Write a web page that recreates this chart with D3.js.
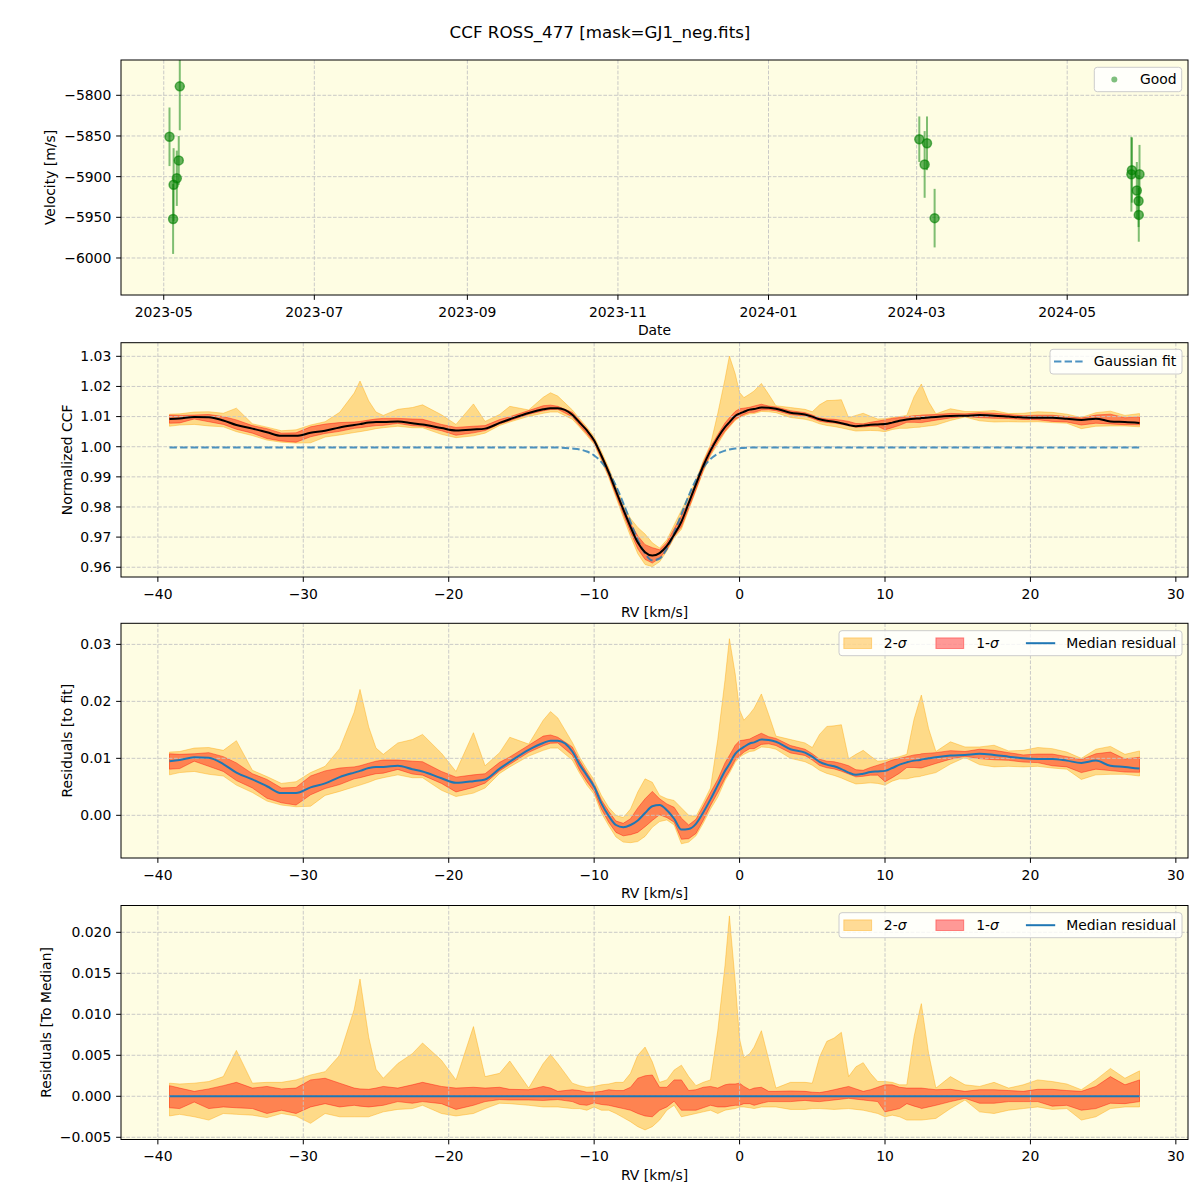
<!DOCTYPE html>
<html><head><meta charset="utf-8">
<script src="https://cdn.jsdelivr.net/npm/d3@7"></script>
<style>
body{margin:0;background:#fff;}
svg{display:block;font-family:"DejaVu Sans",sans-serif;}
</style></head><body>
<svg id="chart" width="1200" height="1200"></svg>
<script>
// ---------------- DATA ----------------
const rv = [-39.2,-38.5,-37.5,-36.5,-35.5,-34.6,-33.5,-32.5,-31.5,-30.5,-29.5,-28.5,-27.5,-26.5,-26.1,-25.5,-25.0,-24.5,-23.5,-22.5,-21.8,-20.5,-19.5,-18.3,-17.5,-16.5,-15.8,-14.5,-13.5,-13.0,-12.5,-11.5,-11.0,-10.5,-10.0,-9.5,-9.0,-8.5,-8.0,-7.5,-7.0,-6.5,-6.0,-5.5,-5.0,-4.5,-4.0,-3.5,-3.0,-2.5,-2.0,-1.5,-1.0,-0.7,-0.3,0.0,0.3,0.7,1.0,1.5,2.0,2.5,3.5,4.5,5.0,5.5,6.0,6.5,7.0,7.5,8.0,8.5,9.0,9.5,10.0,10.5,11.0,11.5,12.0,12.4,12.5,13.0,13.5,14.5,15.5,16.5,17.5,18.5,19.5,20.5,21.5,22.5,23.5,24.5,25.5,26.5,27.5];

// Gaussian fit curve read at each rv
const gaussianFit = [0.9997,0.9997,0.9997,0.9997,0.9997,0.9997,0.9997,0.9997,0.9997,0.9997,0.9997,0.9997,0.9997,0.9997,0.9997,0.9997,0.9997,0.9997,0.9997,0.9997,0.9997,0.9997,0.9997,0.9997,0.9997,0.9997,0.9997,0.9997,0.9997,0.9997,0.9997,
 0.9994,0.9991,0.9984,0.9971,0.9949,0.9916,0.9870,0.9813,0.9751,0.9691,0.9646,0.9623,0.9629,0.9662,0.9714,0.9776,0.9837,0.9890,0.9931,0.9959,0.9977,0.9987,0.9991,0.9994,0.9995,0.9996,
 0.9997,0.9997,0.9997,0.9997,0.9997,0.9997,0.9997,0.9997,0.9997,0.9997,0.9997,0.9997,0.9997,0.9997,0.9997,0.9997,0.9997,0.9997,0.9997,0.9997,0.9997,0.9997,0.9997,0.9997,0.9997,0.9997,0.9997,0.9997,0.9997,0.9997,0.9997,0.9997,0.9997,0.9997,0.9997,0.9997,0.9997,0.9997,0.9997,0.9997];

// Median residual to the fit
const medianResidual = [0.0095,0.0097,0.0102,0.0101,0.0090,0.0075,0.0063,0.0051,0.0039,0.0039,0.0049,0.0056,0.0067,0.0075,0.0078,0.0083,0.0085,0.0085,0.0087,0.0081,0.0077,0.0065,0.0057,0.0060,0.0063,0.0082,0.0094,0.0115,0.0127,0.0131,0.0131,
 0.0112,0.0089,0.0070,0.0050,0.0021,-0.0001,-0.0017,-0.0021,-0.0017,-0.0009,0.0004,0.0016,0.0018,0.0009,-0.0006,-0.0025,-0.0024,-0.0015,0.0005,0.0028,0.0053,0.0078,0.0090,0.0108,0.0115,0.0120,0.0126,0.0128,
 0.0133,0.0132,0.0129,0.0116,0.0110,0.0103,0.0094,0.0089,0.0086,0.0081,0.0075,0.0071,0.0073,0.0076,0.0077,0.0078,0.0083,0.0089,0.0093,0.0096,0.0097,0.0098,0.0100,0.0102,0.0105,0.0106,0.0108,0.0106,0.0103,0.0100,0.0099,0.0099,0.0096,0.0092,0.0096,0.0087,0.0085,0.0082];

// Band edges relative to the median (bottom panel values)
const sigma1Hi = [0.0013,0.0010,0.0006,0.0009,0.0013,0.0017,0.0010,0.0012,0.0009,0.0010,0.0020,0.0022,0.0016,0.0010,0.0009,0.00085,0.0010,0.0012,0.0010,0.0014,0.0017,0.0012,0.0010,0.0011,0.0010,0.0011,0.00085,0.0008,0.0012,0.0010,0.0006,
 0.0008,0.0007,0.0005,0.0005,0.0006,0.0008,0.0007,0.0007,0.0011,0.0022,0.0025,0.0026,0.0011,0.0011,0.0020,0.0020,0.0007,0.0008,0.0011,0.0012,0.0010,0.0014,0.0015,0.0015,0.0016,0.0012,0.0008,0.0010,
 0.0011,0.0006,0.0006,0.00065,0.0006,0.0005,0.00045,0.0006,0.0008,0.0010,0.0012,0.0009,0.0006,0.0008,0.0011,0.0014,0.0014,0.0011,0.0010,0.0010,0.0010,0.0010,0.0009,0.0008,0.00085,0.0006,0.0008,0.0008,0.0007,0.0006,0.00085,0.00085,0.0007,0.0006,0.0012,0.0024,0.0014,0.0020];
const sigma1Lo = [-0.0014,-0.0015,-0.0007,-0.0015,-0.0013,-0.0014,-0.0015,-0.0021,-0.0017,-0.0021,-0.0013,-0.0009,-0.0013,-0.0011,-0.0012,-0.0013,-0.0012,-0.0011,-0.00065,-0.00085,-0.00065,-0.0009,-0.0016,-0.0011,-0.00065,-0.0004,-0.00045,-0.00045,-0.0005,-0.00045,-0.0004,
 -0.00065,-0.0010,-0.0011,-0.0008,-0.0010,-0.0011,-0.0013,-0.0015,-0.0017,-0.0021,-0.0024,-0.0025,-0.0017,-0.0013,-0.0006,-0.0017,-0.0017,-0.0017,-0.0014,-0.0011,-0.0013,-0.0013,-0.0012,-0.0011,-0.0011,-0.0009,-0.0009,-0.0011,
 -0.00085,-0.00065,-0.00065,-0.00065,-0.0005,-0.0006,-0.00065,-0.00055,-0.00045,-0.00035,-0.00025,-0.00035,-0.00045,-0.00055,-0.00065,-0.0019,-0.0017,-0.0015,-0.0009,-0.0012,-0.0014,-0.0015,-0.0013,-0.0011,-0.00065,-0.00025,-0.00085,-0.00085,-0.00065,-0.00065,-0.00065,-0.0012,-0.0011,-0.0017,-0.0015,-0.00085,-0.0009,-0.00065];
const sigma2Hi = [0.0016,0.0015,0.0016,0.0018,0.0024,0.0056,0.0016,0.0017,0.0017,0.0020,0.0026,0.0030,0.0050,0.0106,0.0143,0.0072,0.0033,0.0022,0.0040,0.0052,0.0065,0.0044,0.0020,0.0085,0.0024,0.0028,0.0043,0.0010,0.0040,0.0051,0.0040,
 0.0016,0.0013,0.0011,0.0012,0.0014,0.0015,0.0017,0.0017,0.0028,0.0050,0.0060,0.0042,0.0017,0.0020,0.0032,0.0038,0.0024,0.0013,0.0017,0.0020,0.0080,0.0160,0.0220,0.0140,0.0070,0.0047,0.0052,0.0060,
 0.0080,0.0045,0.0010,0.0017,0.0017,0.0016,0.0048,0.0067,0.0071,0.0078,0.0024,0.0036,0.0041,0.0028,0.0018,0.0018,0.0017,0.0014,0.0014,0.0073,0.0106,0.0113,0.0052,0.0010,0.0024,0.0014,0.0012,0.0017,0.0010,0.0014,0.0020,0.0018,0.0015,0.0008,0.0020,0.0034,0.0022,0.0031];
const sigma2Lo = [-0.0024,-0.0022,-0.0025,-0.0029,-0.0021,-0.0022,-0.0023,-0.0026,-0.0021,-0.0024,-0.0033,-0.0021,-0.0025,-0.0025,-0.0025,-0.0025,-0.0022,-0.0019,-0.0016,-0.0015,-0.0011,-0.0021,-0.0024,-0.0021,-0.0015,-0.00085,-0.0009,-0.0011,-0.0013,-0.0013,-0.0013,
 -0.0015,-0.0015,-0.0017,-0.0013,-0.0017,-0.0017,-0.0021,-0.0026,-0.0031,-0.0037,-0.0041,-0.0037,-0.0029,-0.0017,-0.0011,-0.0025,-0.0023,-0.0021,-0.0019,-0.0017,-0.0021,-0.0017,-0.0016,-0.0015,-0.0013,-0.0013,-0.0014,-0.0015,
 -0.0013,-0.0013,-0.0013,-0.0016,-0.0016,-0.0015,-0.0015,-0.00155,-0.0016,-0.00155,-0.0015,-0.0016,-0.0017,-0.0019,-0.0021,-0.0025,-0.0023,-0.0025,-0.0029,-0.0029,-0.0029,-0.0029,-0.0028,-0.0027,-0.0015,-0.00045,-0.0019,-0.0021,-0.0017,-0.0015,-0.0013,-0.0016,-0.0015,-0.0029,-0.0025,-0.0015,-0.0013,-0.0013];

// Velocity time series
const obsTime = ["2023-05-03T08:00","2023-05-04T19:00","2023-05-05T00:00","2023-05-06T07:00","2023-05-07T02:00","2023-05-07T12:00",
 "2024-03-02T02:00","2024-03-04T06:00","2024-03-05T05:00","2024-03-08T07:00",
 "2024-05-27T00:00","2024-05-27T05:00","2024-05-29T05:00","2024-05-29T22:00","2024-05-30T00:00","2024-05-30T07:00"];
const obsVelocity = [-5851,-5952,-5910,-5902,-5880,-5789,-5854,-5885,-5859,-5951,-5897,-5892,-5917,-5930,-5947,-5897];
const obsError = [36,43,45,34,30,54,28,41,33,36,46,40,35,32,33,36];

const dateTicks = ["2023-05-01","2023-07-01","2023-09-01","2023-11-01","2024-01-01","2024-03-01","2024-05-01"];
const velTicks = [-6000,-5950,-5900,-5850,-5800];
const rvTicks = [-40,-30,-20,-10,0,10,20,30];
const ccfTicks = [0.96,0.97,0.98,0.99,1.00,1.01,1.02,1.03];
const residTicks = [0.00,0.01,0.02,0.03];
const medTicks = [-0.005,0.000,0.005,0.010,0.015,0.020];

// ---------------- LAYOUT ----------------
const svg = d3.select("#chart");
const L = 121, R = 1188;
const FS = 13.9;
const BG = "#fefde3";
const TICK = 4.86, PAD = 4.86;
const panels = [
  {top:60, bottom:295},
  {top:342.7, bottom:577},
  {top:623.3, bottom:858},
  {top:905.5, bottom:1139.5}
];
const defs = svg.append("defs");
panels.forEach((p,i)=>{
  defs.append("clipPath").attr("id","clip"+i).append("rect")
    .attr("x",L).attr("y",p.top).attr("width",R-L).attr("height",p.bottom-p.top);
});

svg.append("rect").attr("width",1200).attr("height",1200).attr("fill","#fff");
svg.append("text").attr("x",600).attr("y",38).attr("text-anchor","middle")
  .attr("font-size",16.7).text("CCF ROSS_477 [mask=GJ1_neg.fits]");

const rows = rv.map((v,i)=>({rv:v, g:gaussianFit[i], r:medianResidual[i],
  a1:sigma1Hi[i], b1:sigma1Lo[i], a2:sigma2Hi[i], b2:sigma2Lo[i]}));

const rvExt = d3.extent(rv), rvPad = (rvExt[1]-rvExt[0])*0.05;
const xRV = d3.scaleLinear().domain([rvExt[0]-rvPad, rvExt[1]+rvPad]).range([L,R]);

function frame(p, idx){
  const g = svg.append("g");
  g.append("rect").attr("x",L).attr("y",p.top).attr("width",R-L).attr("height",p.bottom-p.top).attr("fill",BG);
  return g;
}
function grid(g, p, xs, xt, ys, yt){
  const gg = g.append("g").attr("stroke","#c4c4c4").attr("stroke-width",0.9).attr("stroke-dasharray","3.7,1.6");
  xt.forEach(t=>{ const X = xs(t); if(X>=L-0.5 && X<=R+0.5) gg.append("line").attr("x1",X).attr("x2",X).attr("y1",p.top).attr("y2",p.bottom); });
  yt.forEach(t=>{ const Y = ys(t); if(Y>=p.top-0.5 && Y<=p.bottom+0.5) gg.append("line").attr("x1",L).attr("x2",R).attr("y1",Y).attr("y2",Y); });
}
function axes(g, p, xs, xt, xfmt, ys, yt, yfmt, xlabel, ylabel){
  g.append("rect").attr("x",L).attr("y",p.top).attr("width",R-L).attr("height",p.bottom-p.top)
    .attr("fill","none").attr("stroke","#000").attr("stroke-width",1);
  xt.forEach(t=>{
    const X = xs(t);
    g.append("line").attr("x1",X).attr("x2",X).attr("y1",p.bottom).attr("y2",p.bottom+TICK).attr("stroke","#000");
    g.append("text").attr("x",X).attr("y",p.bottom+21.5).attr("text-anchor","middle").attr("font-size",FS).text(xfmt(t));
  });
  let maxW = 0;
  yt.forEach(t=>{
    const Y = ys(t);
    g.append("line").attr("x1",L-TICK).attr("x2",L).attr("y1",Y).attr("y2",Y).attr("stroke","#000");
    const tx = g.append("text").attr("x",L-TICK-PAD).attr("y",Y).attr("dy","0.35em").attr("text-anchor","end").attr("font-size",FS).text(yfmt(t));
    maxW = Math.max(maxW, tx.node().getComputedTextLength());
  });
  g.append("text").attr("x",(L+R)/2).attr("y",p.bottom+40).attr("text-anchor","middle").attr("font-size",FS).text(xlabel);
  const cx = L - TICK - PAD - maxW - 5.56 - 8.1;
  g.append("text").attr("transform",`translate(${cx},${(p.top+p.bottom)/2}) rotate(-90)`)
    .attr("text-anchor","middle").attr("dy","0.35em").attr("font-size",FS).text(ylabel);
}
function legendBox(g, x, y, w, h){
  g.append("rect").attr("x",x).attr("y",y).attr("width",w).attr("height",h).attr("rx",3)
    .attr("fill","#fff").attr("fill-opacity",0.8).attr("stroke","#cccccc").attr("stroke-width",1);
}
function bands(g, xs, ys, base, clipId){
  const c = g.append("g").attr("clip-path",`url(#${clipId})`);
  const a2 = d3.area().x(d=>xs(d.rv)).y0(d=>ys(base(d)+d.b2)).y1(d=>ys(base(d)+d.a2));
  const a1 = d3.area().x(d=>xs(d.rv)).y0(d=>ys(base(d)+d.b1)).y1(d=>ys(base(d)+d.a1));
  c.append("path").datum(rows).attr("d",a2).attr("fill","orange").attr("fill-opacity",0.4)
    .attr("stroke","orange").attr("stroke-opacity",0.4).attr("stroke-width",1);
  c.append("path").datum(rows).attr("d",a1).attr("fill","red").attr("fill-opacity",0.4)
    .attr("stroke","red").attr("stroke-opacity",0.4).attr("stroke-width",1);
}
function sigmaLegend(g, top){
  legendBox(g, 839, top, 343, 25);
  const cy = top + 12.5;
  g.append("rect").attr("x",843.8).attr("y",cy-5.3).attr("width",27.8).attr("height",10.6)
    .attr("fill","orange").attr("fill-opacity",0.4).attr("stroke","orange").attr("stroke-opacity",0.4);
  const t1 = g.append("text").attr("x",883.8).attr("y",cy).attr("dy","0.35em").attr("font-size",FS);
  t1.append("tspan").text("2-"); t1.append("tspan").attr("font-style","italic").text("σ");
  g.append("rect").attr("x",935.9).attr("y",cy-5.3).attr("width",27.8).attr("height",10.6)
    .attr("fill","red").attr("fill-opacity",0.4).attr("stroke","red").attr("stroke-opacity",0.4);
  const t2 = g.append("text").attr("x",976.2).attr("y",cy).attr("dy","0.35em").attr("font-size",FS);
  t2.append("tspan").text("1-"); t2.append("tspan").attr("font-style","italic").text("σ");
  g.append("line").attr("x1",1025.9).attr("x2",1055.2).attr("y1",cy).attr("y2",cy).attr("stroke","#1f77b4").attr("stroke-width",2);
  g.append("text").attr("x",1066.2).attr("y",cy).attr("dy","0.35em").attr("font-size",FS).text("Median residual");
}

// ---------------- PANEL 1 ----------------
{
  const p = panels[0];
  const parse = d3.utcParse("%Y-%m-%dT%H:%M");
  const dParse = d3.utcParse("%Y-%m-%d");
  const obs = obsTime.map((t,i)=>({t:parse(t), v:obsVelocity[i], e:obsError[i]}));
  const tExt = d3.extent(obs, d=>d.t);
  const span = tExt[1]-tExt[0];
  const xs = d3.scaleUtc().domain([new Date(+tExt[0]-span*0.05), new Date(+tExt[1]+span*0.05)]).range([L,R]);
  const ys = d3.scaleLinear().domain([-6045.5,-5756.6]).range([p.bottom,p.top]);
  const g = frame(p,0);
  const ticks = dateTicks.map(dParse);
  grid(g,p,xs,ticks,ys,velTicks);
  const c = g.append("g").attr("clip-path","url(#clip0)");
  c.selectAll("line.eb").data(obs).join("line").attr("class","eb")
    .attr("x1",d=>xs(d.t)).attr("x2",d=>xs(d.t)).attr("y1",d=>ys(d.v-d.e)).attr("y2",d=>ys(d.v+d.e))
    .attr("stroke","green").attr("stroke-opacity",0.5).attr("stroke-width",2);
  c.selectAll("circle").data(obs).join("circle")
    .attr("cx",d=>xs(d.t)).attr("cy",d=>ys(d.v)).attr("r",4.5)
    .attr("fill","green").attr("fill-opacity",0.6).attr("stroke","green").attr("stroke-opacity",0.6).attr("stroke-width",1.5);
  axes(g,p,xs,ticks,d3.utcFormat("%Y-%m"),ys,velTicks,d3.format("d"),"Date","Velocity [m/s]");
  legendBox(g,1094.3,67.3,87.4,24.4);
  g.append("circle").attr("cx",1114.3).attr("cy",79.5).attr("r",3).attr("fill","green").attr("fill-opacity",0.5);
  g.append("text").attr("x",1140).attr("y",79.5).attr("dy","0.35em").attr("font-size",FS).text("Good");
}

// ---------------- PANEL 2 ----------------
{
  const p = panels[1];
  const ys = d3.scaleLinear().domain([0.95676,1.03452]).range([p.bottom,p.top]);
  const g = frame(p,1);
  const base = d=>d.g+d.r;
  bands(g,xRV,ys,base,"clip1");
  grid(g,p,xRV,rvTicks,ys,ccfTicks);
  const c = g.append("g").attr("clip-path","url(#clip1)");
  c.append("path").datum(rows).attr("d",d3.line().x(d=>xRV(d.rv)).y(d=>ys(d.g)).curve(d3.curveMonotoneX))
    .attr("fill","none").attr("stroke","#1f77b4").attr("stroke-opacity",0.8).attr("stroke-width",2).attr("stroke-dasharray","7.4,3.2");
  c.append("path").datum(rows).attr("d",d3.line().x(d=>xRV(d.rv)).y(d=>ys(base(d))).curve(d3.curveMonotoneX))
    .attr("fill","none").attr("stroke","#000").attr("stroke-width",2);
  axes(g,p,xRV,rvTicks,d3.format("d"),ys,ccfTicks,d3.format(".2f"),"RV [km/s]","Normalized CCF");
  legendBox(g,1050,349.3,132,24.7);
  g.append("line").attr("x1",1054).attr("x2",1083).attr("y1",361.6).attr("y2",361.6)
    .attr("stroke","#1f77b4").attr("stroke-opacity",0.8).attr("stroke-width",2).attr("stroke-dasharray","7.4,3.2");
  g.append("text").attr("x",1093.8).attr("y",361.6).attr("dy","0.35em").attr("font-size",FS).text("Gaussian fit");
}

// ---------------- PANEL 3 ----------------
{
  const p = panels[2];
  const ys = d3.scaleLinear().domain([-0.00749,0.0337]).range([p.bottom,p.top]);
  const g = frame(p,2);
  const base = d=>d.r;
  bands(g,xRV,ys,base,"clip2");
  grid(g,p,xRV,rvTicks,ys,residTicks);
  g.append("g").attr("clip-path","url(#clip2)").append("path").datum(rows)
    .attr("d",d3.line().x(d=>xRV(d.rv)).y(d=>ys(base(d))).curve(d3.curveMonotoneX))
    .attr("fill","none").attr("stroke","#1f77b4").attr("stroke-width",2);
  axes(g,p,xRV,rvTicks,d3.format("d"),ys,residTicks,d3.format(".2f"),"RV [km/s]","Residuals [to fit]");
  sigmaLegend(g,630.7);
}

// ---------------- PANEL 4 ----------------
{
  const p = panels[3];
  const ys = d3.scaleLinear().domain([-0.00527,0.02327]).range([p.bottom,p.top]);
  const g = frame(p,3);
  const base = d=>d.r-d.r;
  bands(g,xRV,ys,base,"clip3");
  grid(g,p,xRV,rvTicks,ys,medTicks);
  g.append("g").attr("clip-path","url(#clip3)").append("path").datum(rows)
    .attr("d",d3.line().x(d=>xRV(d.rv)).y(d=>ys(base(d))))
    .attr("fill","none").attr("stroke","#1f77b4").attr("stroke-width",2);
  axes(g,p,xRV,rvTicks,d3.format("d"),ys,medTicks,d3.format(".3f"),"RV [km/s]","Residuals [To Median]");
  sigmaLegend(g,912.7);
}
</script>
</body></html>
